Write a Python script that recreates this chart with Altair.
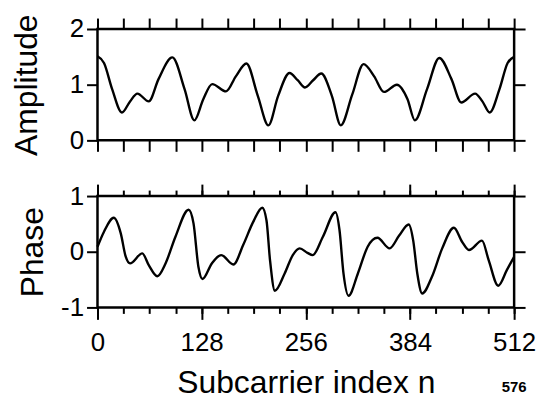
import altair as alt
import pandas as pd

# ---- data ----
amp_n = [0, 8, 18, 30, 40, 49, 63, 75, 92, 107, 119, 130, 141, 158, 170, 183, 197, 210, 222, 236,
         246, 255, 265, 275, 288, 299, 313, 327, 340, 352, 368, 381, 390, 405, 420, 435, 447, 464, 473, 482,
         494, 504, 512]
amp_v = [1.51, 1.39, 0.92, 0.50, 0.70, 0.84, 0.70, 1.10, 1.49, 0.92, 0.36, 0.74, 1.01, 0.88, 1.15, 1.38, 0.80, 0.27, 0.80, 1.21,
         1.08, 0.95, 1.08, 1.20, 0.80, 0.27, 0.82, 1.37, 1.15, 0.87, 1.00, 0.74, 0.36, 0.92, 1.48, 1.10, 0.68, 0.84, 0.70, 0.50,
         0.92, 1.39, 1.50]

ph_n = [0, 8, 20, 28.6, 34.7, 40, 55, 63, 73.5, 83.6, 95.8, 112, 118, 124, 129, 140.5, 152, 167, 179, 191.5,
        202.5, 207.7, 212, 218, 230, 240, 248.5, 258, 264.5, 277, 292.5, 297.4, 302.3, 308.5, 320, 332, 344, 359, 370.7, 382.5,
        388, 393, 399, 411, 423.6, 438, 448, 456.5, 472.5, 480.7, 492.5, 503, 512]
ph_v = [0.09, 0.36, 0.61, 0.33, -0.09, -0.21, -0.03, -0.24, -0.44, -0.21, 0.27, 0.755, 0.51, -0.27, -0.49, -0.21, -0.06, -0.23, 0.12, 0.54,
        0.79, 0.56, -0.15, -0.70, -0.39, -0.06, 0.06, -0.02, -0.06, 0.27, 0.71, 0.39, -0.39, -0.79, -0.39, 0.09, 0.25, 0.06, 0.29, 0.49,
        0.20, -0.39, -0.75, -0.45, 0.06, 0.43, 0.18, 0.03, 0.20, -0.15, -0.61, -0.33, -0.09]

minor_ticks = list(range(0, 513, 32))
major_ticks = [0, 128, 256, 384, 512]
amp_ticks = [0, 1, 2]
ph_ticks = [-1, 0, 1]
note = ["576"]

df_a = pd.DataFrame({"n": amp_n, "amp": amp_v})
df_p = pd.DataFrame({"n": ph_n, "phase": ph_v})
df_note = pd.DataFrame({"t": note})

FONT = "Liberation Sans"
W, H = 419, 112

xs = alt.Scale(domain=[0, 512], nice=False, zero=False)
ya = alt.Scale(domain=[0, 2], nice=False)
yp = alt.Scale(domain=[-1, 1], nice=False)

def ax(orient, values, size, labels=False, title=None, **kw):
    args = dict(orient=orient, values=values, tickSize=size, labels=labels, domain=False, grid=False)
    args["title"] = title
    args.update(kw)
    return alt.Axis(**args)

# ---- amplitude panel ----
a1 = alt.Chart(df_a).mark_line(color="black", strokeWidth=2.4, interpolate="monotone").encode(
    x=alt.X("n:Q", scale=xs, axis=ax("bottom", minor_ticks, 11)),
    y=alt.Y("amp:Q", scale=ya, axis=ax("left", amp_ticks, 11, labels=True, title="Amplitude",
                                        labelExpr="'' + datum.value", labelPadding=3, titlePadding=26)),
)
a2 = alt.Chart(df_a).mark_line(strokeOpacity=0).encode(
    x=alt.X("n:Q", scale=xs, axis=ax("top", minor_ticks, 11)),
    y=alt.Y("amp:Q", scale=ya, axis=ax("right", amp_ticks, 11)),
)
top = alt.layer(a1, a2).resolve_axis(x="independent", y="independent").properties(width=W, height=H)

# ---- phase panel ----
p1 = alt.Chart(df_p).mark_line(color="black", strokeWidth=2.4, interpolate="monotone").encode(
    x=alt.X("n:Q", scale=xs, axis=ax("bottom", major_ticks, 12, labels=True, title="Subcarrier index n",
                                      labelExpr="'' + datum.value", labelPadding=10, labelFlush=False,
                                      titlePadding=13)),
    y=alt.Y("phase:Q", scale=yp, axis=ax("left", ph_ticks, 11, labels=True, title="Phase",
                                          labelExpr="'' + datum.value", labelPadding=3, titlePadding=11)),
)
p2 = alt.Chart(df_p).mark_line(strokeOpacity=0).encode(
    x=alt.X("n:Q", scale=xs, axis=ax("bottom", minor_ticks, 6)),
    y=alt.Y("phase:Q", scale=yp, axis=ax("right", ph_ticks, 11)),
)
p3 = alt.Chart(df_p).mark_line(strokeOpacity=0).encode(
    x=alt.X("n:Q", scale=xs, axis=ax("top", major_ticks, 12)),
    y=alt.Y("phase:Q", scale=yp, axis=None),
)
p4 = alt.Chart(df_p).mark_line(strokeOpacity=0).encode(
    x=alt.X("n:Q", scale=xs, axis=ax("top", minor_ticks, 6)),
    y=alt.Y("phase:Q", scale=yp, axis=None),
)
txt = alt.Chart(df_note).mark_text(font=FONT, fontSize=15, fontWeight="bold", color="black",
                                   align="center", baseline="alphabetic").encode(
    text="t:N", x=alt.value(419), y=alt.value(197)
)
bottom = alt.layer(p1, p2, p3, p4, txt).resolve_axis(x="independent", y="independent").properties(width=W, height=H)

chart = alt.vconcat(top, bottom, spacing=56, bounds="flush").properties(
    padding={"left": 1, "top": 3, "right": 0, "bottom": 0}
).configure_view(stroke="black", strokeWidth=2.5).configure_axis(
    tickColor="black", tickWidth=2, labelColor="black", titleColor="black",
    labelFont=FONT, titleFont=FONT, labelFontSize=26, titleFontSize=32, titleFontWeight="normal"
)

chart.save("out.html", embed_options={"renderer": "svg", "actions": False})
